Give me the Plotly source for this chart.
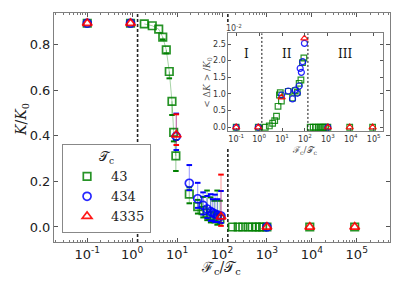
import plotly.graph_objects as go

# ---------------- data ----------------
green_x = [0.1, 0.92, 1.86, 2.8, 3.9, 4.8, 5.75, 6.7, 7.7, 8.4, 9.4,
           18.7, 28.8, 37.9, 46.5, 56, 67, 78, 90,
           170, 230, 290, 380, 470, 580, 680, 800, 1000, 9000, 90000]
green_K = [0.895, 0.895, 0.892, 0.884, 0.869, 0.834, 0.778, 0.683, 0.552, 0.416, 0.312,
           0.144, 0.089, 0.072, 0.060, 0.050, 0.045, 0.040, 0.035,
           0, 0, 0, 0, 0, 0, 0, 0, 0, 0, 0]
green_ep = [0, 0, 0, 0, 0, 0, 0, 0, 0, 0, 0.07,
            0.03, 0.03, 0.06, 0.10, 0.08, 0.07, 0.12, 0.08,
            0, 0, 0, 0, 0, 0, 0, 0, 0, 0, 0]
green_em = [0, 0, 0, 0, 0, 0.01, 0.015, 0.03, 0.06, 0.04, 0.066,
            0.04, 0.03, 0.03, 0.03, 0.03, 0.025, 0.03, 0.02,
            0, 0, 0, 0, 0, 0, 0, 0, 0, 0, 0]
green_dK = [0, 0, 0, 0.04, 0.12, 0.20, 0.33, 0.63, 0.97, 1.04, 0.79,
            1.08, 0.88, 1.10, 1.05, 1.32, 1.42, 1.94, 2.08,
            0, 0, 0, 0, 0, 0, 0, 0, 0, 0, 0]

blue_x = [0.1, 0.92, 9.6, 18.7, 28.8, 37.9, 46.5, 56, 62, 70, 80, 95, 1000]
blue_K = [0.895, 0.895, 0.398, 0.192, 0.124, 0.095, 0.079, 0.067, 0.062, 0.057, 0.052, 0.048, 0]
blue_ep = [0, 0, 0.10, 0.08, 0.07, 0.057, 0.057, 0.077, 0.06, 0.085, 0.07, 0.11, 0]
blue_em = [0, 0, 0.06, 0.03, 0.04, 0.04, 0.04, 0.04, 0.035, 0.035, 0.03, 0.03, 0]
blue_dK = [0, 0, 0.97, 1.09, 0.85, 1.12, 1.02, 1.24, 1.77, 1.65, 1.97, 2.52, 0]

red_x = [0.1, 0.92, 9.6, 95, 1000, 9000, 90000]
red_K = [0.895, 0.895, 0.405, 0.045, 0, 0, 0]
red_ep = [0, 0, 0.09, 0.185, 0, 0, 0]
red_em = [0, 0, 0.045, 0.04, 0, 0, 0]
red_dK = [0, 0, 0.90, 2.67, 0, 0, 0]

series_names = ["43", "434", "4335"]
regime_bounds = [1.32, 135]
regime_labels = ["I", "II", "III"]
regime_label_x = [-0.54, 1.23, 3.75]   # log10 positions in inset
xtick_vals = [0.1, 1, 10, 100, 1000, 10000, 100000]
xtick_text = ["10<sup>-1</sup>", "10<sup>0</sup>", "10<sup>1</sup>", "10<sup>2</sup>",
              "10<sup>3</sup>", "10<sup>4</sup>", "10<sup>5</sup>"]
ytick_vals = [0.0, 0.2, 0.4, 0.6, 0.8]
inset_ytick_vals = [0.0, 0.5, 1.0, 1.5, 2.0, 2.5]

# ---------------- styles ----------------
series = [
    (green_x, green_K, green_ep, green_em, green_dK, "square-open",
     "rgba(0,128,0,0.85)", "rgba(0,128,0,0.4)", "rgb(0,128,0)", 7.5),
    (blue_x, blue_K, blue_ep, blue_em, blue_dK, "circle-open",
     "rgba(0,0,255,0.85)", "rgba(0,0,255,0.4)", "rgb(0,0,255)", 8),
    (red_x, red_K, red_ep, red_em, red_dK, "triangle-up-open",
     "rgba(255,0,0,0.9)", "rgba(255,0,0,0.4)", "rgb(255,0,0)", 8.5),
]

fig = go.Figure()

fig.add_trace(go.Scatter(x=green_x[2:11], y=green_K[2:11], mode="lines",
                         line=dict(color="rgba(0,128,0,0.35)", width=1),
                         showlegend=False, hoverinfo="skip"))

for (xs, ks, ep, em, dk, sym, col, ecol, capcol, sz), name in zip(series, series_names):
    fig.add_trace(go.Scatter(
        x=xs, y=ks, mode="markers", name=name,
        marker=dict(symbol=sym, size=sz, color=col, line=dict(width=1.7, color=col)),
        error_y=dict(type="data", symmetric=False, array=ep, arrayminus=em,
                     color=ecol, thickness=1, width=0, visible=True),
    ))
    cx, cy = [], []
    for x, k, p, m in zip(xs, ks, ep, em):
        if p > 0:
            cx.append(x); cy.append(k + p)
        if m > 0:
            cx.append(x); cy.append(k - m)
    fig.add_trace(go.Scatter(
        x=cx, y=cy, mode="markers", showlegend=False, hoverinfo="skip",
        marker=dict(symbol="line-ew", size=4, line=dict(width=2, color=capcol)),
    ))

for (xs, ks, ep, em, dk, sym, col, ecol, capcol, sz), name in zip(series, series_names):
    fig.add_trace(go.Scatter(
        x=xs, y=dk, mode="markers", showlegend=False, xaxis="x2", yaxis="y2",
        marker=dict(symbol=sym, size=sz * 0.75, color=col, line=dict(width=1.2, color=col)),
    ))

# ---------------- shapes ----------------
shapes = []
shapes.append(dict(type="line", xref="x", yref="paper", x0=regime_bounds[0], x1=regime_bounds[0],
                   y0=0, y1=1, line=dict(color="#222", width=1.6, dash="3px,2px"), layer="below"))
shapes.append(dict(type="line", xref="x", yref="paper", x0=regime_bounds[1], x1=regime_bounds[1],
                   y0=0, y1=0.415, line=dict(color="#222", width=1.6, dash="3px,2px"), layer="below"))
shapes.append(dict(type="line", xref="x", yref="paper", x0=regime_bounds[1], x1=regime_bounds[1],
                   y0=0.961, y1=1, line=dict(color="#222", width=1.6, dash="3px,2px"), layer="below"))
for b in regime_bounds:
    shapes.append(dict(type="line", xref="x2", yref="y2 domain", x0=b, x1=b, y0=0, y1=1,
                       line=dict(color="#111", width=1, dash="2px,2px")))

# ---------------- annotations ----------------
def A(**kw):
    d = dict(showarrow=False, xanchor="center", yanchor="middle")
    d.update(kw)
    return d

ann = []
ann.append(A(xref="paper", yref="paper", x=-0.095, y=0.533, text="<i>K</i>/<i>K</i><sub>0</sub>",
             textangle=-90, font=dict(family="DejaVu Serif", size=14, color="#222")))
ann.append(A(xref="paper", yref="paper", x=0.497, y=-0.114, text="ℱ<sub>c</sub>/𝒯<sub>c</sub>",
             font=dict(family="DejaVu Serif", size=14, color="#222")))
ann.append(A(xref="paper", yref="paper", x=0.458, y=0.699,
             text="&lt; Δ<i>K</i> &gt; /<i>K</i><sub>0</sub>",
             textangle=-90, font=dict(family="DejaVu Serif", size=9, color="#555")))
ann.append(A(xref="paper", yref="paper", x=0.747, y=0.398, text="ℱ<sub>c</sub>/𝒯<sub>c</sub>",
             font=dict(family="DejaVu Serif", size=9, color="#555")))
ann.append(A(xref="paper", yref="paper", x=0.536, y=0.934, text="10<sup>-2</sup>",
             font=dict(family="DejaVu Sans", size=8, color="#444")))
for lx, lab in zip(regime_label_x, regime_labels):
    ann.append(A(xref="x2", yref="y2", x=lx, y=2.2, text=lab,
                 font=dict(family="DejaVu Serif", size=12, color="#111")))

axcol = "#808080"
fig.update_layout(
    template="none",
    width=415, height=291,
    margin=dict(l=54, r=25, t=13, b=49, autoexpand=False),
    paper_bgcolor="white", plot_bgcolor="white",
    font=dict(family="DejaVu Sans", size=13, color="#222"),
    xaxis=dict(type="log", range=[-1.74, 5.74], tickvals=xtick_vals, ticktext=xtick_text,
               ticks="inside", ticklen=4, tickcolor="#555", showline=True, linecolor=axcol,
               mirror="ticks", showgrid=False, zeroline=False, automargin=False,
               minor=dict(ticks="inside", ticklen=2, tickcolor="#777", dtick="D1", showgrid=False),
               tickfont=dict(size=13, color="#222")),
    yaxis=dict(range=[-0.066, 0.94], tickvals=ytick_vals, ticktext=[f"{v:.1f}" for v in ytick_vals],
               ticks="inside", ticklen=4, tickcolor="#555", showline=True, linecolor=axcol,
               mirror="ticks", showgrid=False, zeroline=False, automargin=False,
               tickfont=dict(size=13, color="#222")),
    xaxis2=dict(type="log", range=[-1.34, 5.39], domain=[0.519, 0.978], anchor="y2",
                tickvals=xtick_vals, ticktext=xtick_text, ticks="inside", ticklen=3,
                tickcolor="#555", showline=True, linecolor=axcol, mirror="ticks", automargin=False,
                showgrid=False, zeroline=False, tickfont=dict(size=8, color="#333")),
    yaxis2=dict(range=[-0.11, 2.82], domain=[0.485, 0.911], anchor="x2",
                tickvals=inset_ytick_vals, ticktext=[f"{v:.1f}" for v in inset_ytick_vals],
                ticks="inside", ticklen=3, tickcolor="#555", showline=True, linecolor=axcol,
                mirror="ticks", showgrid=False, zeroline=False, automargin=False,
                tickfont=dict(size=8, color="#333")),
    legend=dict(x=0.024, y=0.43, xanchor="left", yanchor="top", bgcolor="white",
                bordercolor="#888", borderwidth=1, tracegroupgap=0, itemwidth=38,
                font=dict(family="DejaVu Serif", size=13, color="#222"),
                title=dict(text="𝒯<sub>c</sub>", side="top center",
                           font=dict(family="DejaVu Serif", size=13))),
    shapes=shapes, annotations=ann, showlegend=True,
)

fig.write_html("out.html", config={"displayModeBar": False},
               post_script="document.body.style.margin='0px';document.body.style.padding='0px';")
